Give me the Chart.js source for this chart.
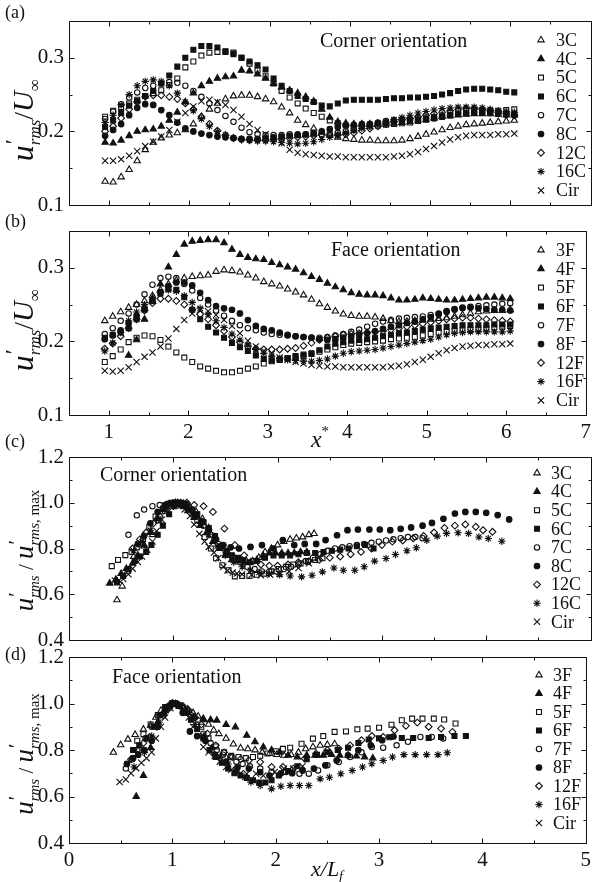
<!DOCTYPE html>
<html>
<head>
<meta charset="utf-8">
<script src="https://cdn.jsdelivr.net/npm/chart.js@4.4.1/dist/chart.umd.min.js"></script>
<style>
  html, body { margin: 0; padding: 0; background: #fff; }
  #wrap { position: relative; width: 596px; height: 882px; overflow: hidden; background: #fff; }
  #wrap canvas { position: absolute; left: 0; top: 0; }
</style>
</head>
<body>
<div id="wrap">
  <canvas id="pa" width="596" height="882"></canvas>
  <canvas id="pb" width="596" height="882"></canvas>
  <canvas id="pc" width="596" height="882"></canvas>
  <canvas id="pd" width="596" height="882"></canvas>
</div>
<script>
// ---------------- data ----------------
const NAMES_C = ['3C', '4C', '5C', '6C', '7C', '8C', '12C', '16C', 'Cir'];
const NAMES_F = ['3F', '4F', '5F', '6F', '7F', '8F', '12F', '16F', 'Cir'];

// streamwise stations x* shared by panels (a) and (b)
const X_STAR = [0.95,1.05,1.15,1.25,1.35,1.45,1.55,1.65,1.75,1.85,1.95,2.05,2.15,2.25,2.35,2.45,2.55,2.65,2.75,2.85,2.95,3.05,3.15,3.25,3.35,3.45,3.55,3.65,3.75,3.85,3.95,4.05,4.15,4.25,4.35,4.45,4.55,4.65,4.75,4.85,4.95,5.05,5.15,5.25,5.35,5.45,5.55,5.65,5.75,5.85,5.95,6.05];

// (a) corner orientation, u'rms/U
const A_3C  = [.132,.131,.138,.148,.160,.175,.185,.191,.195,.198,.202,.210,.220,.230,.238,.244,.248,.249,.249,.247,.244,.240,.233,.225,.215,.209,.204,.199,.195,.192,.190,.189,.188,.188,.187,.187,.187,.188,.190,.193,.196,.199,.202,.205,.207,.209,.210,.211,.212,.213,.214,.215];
const A_4C  = [.185,.184,.188,.194,.200,.202,.203,.207,.215,.226,.240,.252,.262,.268,.272,.274,.275,.283,.282,.278,.272,.265,.260,.256,.252,.247,.241,.230,.219,.213,.211,.210,.210,.210,.210,.210,.211,.212,.213,.215,.216,.218,.220,.221,.222,.223,.224,.224,.224,.223,.222,.222];
const A_5C  = [.220,.228,.233,.238,.243,.248,.252,.256,.263,.272,.287,.295,.303,.307,.308,.308,.307,.300,.292,.283,.275,.265,.255,.246,.238,.231,.225,.220,.215,.211,.208,.207,.207,.207,.208,.209,.210,.211,.212,.214,.216,.218,.220,.222,.224,.225,.226,.227,.228,.228,.229,.230];
const A_6C  = [.206,.215,.225,.235,.241,.248,.255,.265,.276,.288,.300,.311,.316,.316,.314,.309,.305,.300,.295,.290,.284,.272,.262,.255,.248,.244,.240,.235,.234,.238,.242,.243,.243,.243,.243,.244,.245,.245,.246,.246,.247,.248,.250,.252,.255,.257,.258,.258,.257,.256,.254,.253];
const A_7C  = [.217,.227,.237,.246,.253,.259,.262,.265,.267,.266,.262,.255,.247,.238,.229,.221,.213,.205,.199,.196,.195,.195,.195,.196,.196,.196,.196,.196,.197,.198,.200,.203,.207,.210,.212,.214,.215,.216,.217,.218,.219,.220,.222,.225,.228,.230,.230,.229,.228,.226,.225,.224];
const A_8C  = [.194,.202,.210,.222,.232,.237,.236,.229,.222,.212,.204,.200,.197,.195,.193,.192,.191,.190,.190,.190,.191,.192,.193,.194,.195,.196,.198,.200,.203,.206,.208,.209,.210,.210,.211,.212,.213,.214,.215,.216,.217,.218,.220,.222,.224,.225,.226,.226,.225,.224,.223,.222];
const A_12C = [.200,.207,.218,.230,.240,.247,.249,.249,.247,.244,.238,.230,.220,.210,.201,.195,.191,.189,.188,.188,.188,.189,.190,.191,.192,.193,.194,.195,.195,.195,.196,.198,.201,.204,.207,.210,.213,.216,.218,.220,.222,.224,.226,.228,.230,.231,.231,.230,.228,.226,.224,.222];
const A_16C = [.212,.222,.236,.250,.262,.268,.270,.268,.262,.252,.240,.228,.217,.207,.200,.195,.191,.189,.188,.187,.187,.186,.185,.184,.183,.184,.186,.189,.192,.195,.198,.201,.204,.207,.210,.213,.216,.219,.222,.225,.227,.229,.231,.232,.233,.233,.233,.232,.230,.228,.227,.226];
const A_CIR = [.160,.160,.162,.167,.173,.180,.186,.193,.202,.213,.225,.234,.241,.243,.240,.236,.229,.220,.210,.202,.196,.190,.184,.175,.171,.169,.168,.167,.166,.166,.165,.165,.165,.165,.165,.165,.166,.167,.169,.172,.176,.180,.185,.189,.192,.194,.195,.195,.195,.196,.196,.197];

// (b) face orientation, u'rms/U
const B_3F  = [.228,.234,.240,.246,.250,.255,.262,.270,.278,.283,.286,.288,.289,.290,.295,.297,.296,.294,.290,.286,.281,.278,.275,.271,.267,.263,.257,.251,.246,.241,.237,.235,.234,.234,.233,.231,.228,.227,.227,.228,.229,.230,.231,.232,.234,.236,.238,.240,.241,.242,.242,.243];
const B_4F  = [null,null,null,.181,.202,.230,.255,.278,.301,.318,.332,.336,.337,.338,.338,.334,.325,.318,.314,.312,.311,.307,.304,.301,.298,.293,.288,.284,.279,.274,.270,.266,.264,.263,.263,.262,.259,.256,.256,.257,.259,.258,.257,.256,.256,.257,.258,.259,.260,.260,.259,.258];
const B_5F  = [.172,.180,.189,.199,.205,.208,.207,.202,.193,.185,.178,.172,.166,.163,.160,.158,.158,.160,.163,.166,.170,.173,.175,.177,.178,.180,.183,.186,.189,.192,.195,.197,.198,.199,.200,.201,.203,.204,.205,.206,.208,.210,.212,.213,.214,.215,.216,.217,.218,.219,.220,.221];
const B_6F  = [.205,.209,.212,.218,.230,.243,.255,.265,.271,.270,.260,.243,.230,.220,.212,.205,.198,.192,.187,.181,.176,.174,.175,.177,.180,.182,.184,.188,.193,.197,.199,.201,.202,.203,.205,.207,.209,.211,.212,.214,.216,.218,.219,.220,.221,.222,.222,.222,.222,.223,.223,.223];
const B_7F  = [.210,.218,.228,.238,.250,.264,.277,.286,.288,.286,.278,.269,.259,.250,.242,.235,.228,.222,.218,.215,.212,.210,.209,.208,.207,.206,.205,.205,.206,.208,.210,.213,.216,.220,.224,.227,.229,.231,.232,.233,.234,.236,.238,.240,.243,.245,.247,.248,.249,.250,.251,.252];
const B_8F  = [.203,.208,.215,.225,.235,.245,.255,.267,.275,.280,.280,.276,.266,.256,.248,.245,.243,.238,.229,.221,.217,.215,.212,.209,.207,.206,.205,.203,.202,.203,.205,.207,.209,.211,.214,.217,.220,.222,.225,.227,.230,.233,.237,.241,.244,.246,.246,.245,.244,.243,.243,.242];
const B_12F = [.190,.197,.207,.218,.230,.242,.252,.258,.258,.255,.250,.243,.237,.230,.222,.214,.206,.199,.193,.190,.189,.189,.189,.190,.191,.194,.198,.202,.205,.207,.209,.210,.211,.212,.213,.214,.216,.218,.220,.222,.224,.226,.228,.230,.231,.232,.232,.231,.230,.229,.228,.227];
const B_16F = [.187,.198,.212,.228,.240,.250,.260,.266,.270,.268,.262,.253,.245,.237,.228,.219,.210,.202,.195,.189,.184,.180,.177,.175,.174,.173,.173,.174,.176,.180,.184,.186,.187,.188,.189,.191,.193,.195,.197,.199,.201,.203,.206,.209,.211,.212,.213,.213,.213,.213,.213,.214];
const B_CIR = [.160,.159,.160,.165,.172,.179,.185,.193,.204,.217,.229,.238,.243,.241,.236,.229,.221,.211,.201,.193,.187,.183,.178,.175,.172,.170,.168,.167,.166,.166,.165,.165,.165,.165,.165,.165,.166,.167,.169,.172,.175,.179,.184,.188,.191,.193,.194,.195,.195,.196,.196,.197];

// (c) corner orientation, normalised by the peak, against x/Lf
const C_3C_X  = [0.46,0.51,0.56,0.62,0.72,0.80,0.86,0.92,0.98,1.04,1.10,1.16,1.22,1.28,1.34,1.40,1.46,1.52,1.58,1.64,1.70,1.76,1.82,1.88,1.94,2.00,2.06,2.12,2.18,2.24,2.30,2.35];
const C_3C_Y  = [.575,.635,.70,.765,.81,.86,.92,.96,.99,1.0,.995,.98,.96,.93,.89,.85,.81,.785,.765,.75,.745,.745,.76,.785,.80,.815,.83,.84,.845,.85,.86,.865];
const C_4C_X  = [0.39,0.45,0.50,0.55,0.61,0.66,0.72,0.78,0.84,0.90,0.96,1.02,1.08,1.14,1.20,1.26,1.32,1.38,1.44,1.50,1.56,1.62,1.68,1.74,1.80,1.86,1.92,1.98,2.04,2.10,2.16,2.22,2.28];
const C_4C_Y  = [.648,.665,.69,.712,.735,.77,.815,.87,.93,.97,.995,1.0,.99,.965,.935,.90,.87,.83,.80,.77,.75,.745,.74,.74,.75,.77,.78,.78,.78,.78,.78,.785,.785];
const C_5C_X  = [0.41,0.47,0.54,0.60,0.65,0.71,0.77,0.83,0.90,0.96,1.02,1.09,1.16,1.23,1.30,1.36,1.41,1.47,1.53,1.59,1.66,1.73,1.80,1.87,1.94,2.01,2.08,2.15,2.22,2.29,2.36,2.43];
const C_5C_Y  = [.723,.75,.771,.785,.805,.84,.895,.94,.975,.995,1.0,.985,.968,.924,.85,.80,.757,.727,.705,.678,.68,.68,.685,.69,.70,.71,.72,.73,.735,.742,.75,.757];
const C_6C_X  = [0.46,0.52,0.57,0.63,0.68,0.74,0.79,0.85,0.90,0.96,1.01,1.07,1.12,1.18,1.23,1.29,1.34,1.40,1.45,1.51,1.56,1.62,1.67,1.73,1.80,1.88,1.96,2.04,2.12,2.20,2.28,2.36,2.44,2.52,2.60,2.68,2.76,2.84,2.92];
const C_6C_Y  = [.652,.68,.71,.745,.765,.785,.815,.86,.90,.95,.985,1.0,.995,.97,.95,.915,.89,.855,.81,.785,.77,.76,.75,.74,.745,.76,.77,.77,.77,.775,.78,.78,.785,.79,.795,.80,.81,.815,.80];
const C_7C_X  = [0.57,0.65,0.72,0.80,0.87,0.94,1.01,1.08,1.15,1.22,1.29,1.36,1.43,1.50,1.57,1.64,1.71,1.78,1.85,1.92,1.99,2.06,2.13,2.20,2.27,2.34,2.41,2.48,2.55,2.62,2.69,2.76,2.83,2.90,2.97,3.04,3.11,3.18,3.25,3.32,3.39];
const C_7C_Y  = [.86,.945,.97,.985,.99,.995,1.0,.99,.97,.94,.90,.86,.82,.79,.76,.74,.72,.71,.70,.70,.70,.71,.72,.73,.745,.76,.775,.79,.80,.805,.81,.815,.82,.825,.83,.835,.84,.845,.85,.85,.845];
const C_8C_X  = [0.66,0.72,0.78,0.85,0.92,0.99,1.06,1.13,1.20,1.27,1.34,1.41,1.48,1.55,1.63,1.74,1.85,1.96,2.05,2.16,2.26,2.37,2.46,2.57,2.67,2.77,2.88,2.98,3.08,3.18,3.28,3.39,3.48,3.59,3.70,3.80,3.90,4.00,4.11,4.22];
const C_8C_Y  = [.82,.855,.91,.96,.99,1.0,.995,.98,.95,.92,.88,.84,.815,.805,.80,.807,.815,.80,.837,.815,.82,.82,.837,.858,.88,.883,.883,.883,.88,.886,.892,.90,.912,.93,.953,.96,.96,.956,.946,.927];
const C_12C_X = [0.61,0.68,0.74,0.81,0.87,0.94,1.00,1.07,1.13,1.20,1.29,1.38,1.49,1.59,1.68,1.76,1.84,1.92,2.00,2.10,2.20,2.30,2.40,2.50,2.60,2.70,2.80,2.90,3.00,3.10,3.20,3.30,3.40,3.50,3.60,3.70,3.80,3.90,3.97,4.06];
const C_12C_Y = [.80,.84,.87,.91,.94,.97,.985,1.0,1.0,.99,.985,.96,.887,.815,.77,.745,.73,.725,.725,.73,.74,.745,.75,.76,.765,.775,.785,.80,.815,.83,.835,.845,.855,.87,.89,.90,.905,.895,.88,.873];
const C_16C_X = [0.62,0.70,0.78,0.86,0.94,1.02,1.10,1.18,1.26,1.34,1.42,1.50,1.58,1.66,1.74,1.82,1.92,2.02,2.12,2.23,2.33,2.43,2.54,2.63,2.74,2.83,2.93,3.04,3.13,3.24,3.33,3.43,3.53,3.62,3.73,3.83,3.93,4.02,4.15];
const C_16C_Y = [.79,.83,.88,.93,.975,1.0,.99,.96,.91,.86,.81,.77,.74,.72,.705,.695,.69,.685,.68,.676,.683,.698,.715,.705,.705,.72,.745,.756,.774,.79,.803,.836,.854,.866,.869,.866,.85,.844,.832];
const C_CIR_X = [0.44,0.48,0.52,0.57,0.61,0.66,0.70,0.75,0.80,0.84,0.89,0.93,0.98,1.02,1.07,1.11,1.16,1.20,1.25,1.30,1.34,1.39,1.43,1.48,1.52,1.57,1.61,1.66,1.75,1.84,1.93,2.02,2.11,2.20,2.30,2.39];
const C_CIR_Y = [.66,.66,.667,.687,.712,.741,.765,.794,.831,.877,.926,.963,.992,1.0,.988,.971,.942,.905,.864,.831,.807,.782,.757,.72,.704,.695,.691,.687,.685,.683,.685,.69,.70,.715,.735,.76];

// (d) face orientation, normalised by the peak, against x/Lf
const D_3F_X  = [0.43,0.50,0.57,0.64,0.72,0.79,0.84,0.89,0.95,1.00,1.05,1.10,1.15,1.20,1.25,1.30,1.35,1.40,1.45,1.52,1.59,1.66,1.73,1.80,1.87,1.94,2.01,2.08,2.15,2.22,2.29,2.36,2.43,2.50,2.57];
const D_3F_Y  = [.79,.822,.846,.866,.889,.906,.94,.97,.985,1.0,.995,.985,.975,.96,.945,.93,.91,.885,.87,.85,.825,.808,.805,.80,.79,.785,.78,.777,.78,.79,.805,.813,.82,.823,.826];
const D_4F_X  = [0.65,0.72,0.79,0.86,0.93,1.00,1.07,1.14,1.21,1.30,1.37,1.43,1.52,1.61,1.72,1.80,1.88,1.96,2.04,2.12,2.21,2.30,2.38,2.46,2.54,2.62,2.70,2.78,2.86,2.94];
const D_4F_Y  = [.60,.69,.81,.92,.97,1.0,.99,.965,.942,.935,.93,.928,.909,.899,.863,.835,.813,.80,.79,.777,.77,.777,.777,.777,.78,.777,.777,.774,.77,.765];
const D_5F_X  = [0.66,0.72,0.79,0.86,0.93,1.00,1.07,1.14,1.21,1.28,1.35,1.42,1.50,1.57,1.64,1.71,1.78,1.85,1.92,2.00,2.07,2.14,2.25,2.36,2.46,2.57,2.68,2.79,2.89,3.00,3.12,3.22,3.32,3.42,3.53,3.63,3.74];
const D_5F_Y  = [.84,.868,.91,.95,.985,1.0,.99,.97,.94,.90,.85,.815,.79,.775,.77,.765,.77,.775,.785,.795,.805,.81,.827,.849,.86,.878,.88,.889,.892,.896,.909,.928,.935,.935,.935,.931,.914];
const D_6F_X  = [0.62,0.68,0.75,0.82,0.88,0.94,1.00,1.06,1.12,1.18,1.24,1.30,1.36,1.42,1.48,1.54,1.60,1.66,1.72,1.78,1.84,1.90,1.96,2.03,2.12,2.21,2.30,2.40,2.50,2.60,2.70,2.80,2.90,3.00,3.10,3.22,3.33,3.48,3.60,3.73,3.84];
const D_6F_Y  = [.80,.82,.85,.90,.95,.98,1.0,.99,.96,.93,.89,.85,.80,.77,.745,.72,.70,.69,.68,.67,.66,.66,.67,.69,.71,.73,.76,.78,.79,.80,.81,.83,.845,.85,.855,.852,.852,.852,.856,.86,.86];
const D_7F_X  = [0.55,0.61,0.68,0.74,0.80,0.86,0.93,0.99,1.05,1.11,1.18,1.24,1.30,1.37,1.43,1.49,1.56,1.62,1.68,1.75,1.85,1.96,2.10,2.23,2.32,2.41,2.50,2.61,2.72,2.83,2.93,3.04,3.17,3.28,3.40,3.51,3.62];
const D_7F_Y  = [.72,.76,.80,.85,.90,.95,.98,1.0,.995,.98,.95,.91,.87,.83,.80,.78,.77,.75,.74,.73,.72,.705,.705,.698,.698,.712,.734,.748,.77,.79,.813,.81,.82,.835,.856,.856,.85];
const D_8F_X  = [0.56,0.62,0.67,0.73,0.80,0.86,0.92,0.98,1.04,1.10,1.17,1.24,1.32,1.41,1.52,1.63,1.74,1.85,1.94,2.05,2.16,2.26,2.37,2.48,2.59,2.70,2.80,2.92,3.03,3.14];
const D_8F_Y  = [.74,.765,.78,.80,.84,.90,.96,.99,1.0,.96,.88,.86,.84,.78,.75,.725,.72,.705,.69,.70,.70,.712,.72,.734,.755,.777,.80,.82,.842,.858];
const D_12F_X = [0.60,0.66,0.72,0.78,0.85,0.91,0.97,1.03,1.10,1.16,1.22,1.28,1.34,1.42,1.50,1.58,1.66,1.74,1.85,1.96,2.07,2.17,2.28,2.39,2.50,2.61,2.72,2.83,2.93,3.04,3.15,3.26,3.37,3.48,3.60,3.71];
const D_12F_Y = [.76,.80,.83,.856,.90,.95,.98,1.0,.99,.97,.94,.91,.87,.82,.79,.77,.76,.755,.748,.727,.727,.72,.763,.784,.80,.806,.82,.842,.86,.856,.885,.904,.918,.90,.892,.878];
const D_16F_X = [0.63,0.73,0.80,0.87,0.94,1.01,1.08,1.15,1.22,1.30,1.38,1.46,1.54,1.62,1.70,1.76,1.85,1.96,2.05,2.14,2.23,2.32,2.43,2.52,2.63,2.74,2.84,2.93,3.04,3.13,3.24,3.35,3.46,3.57,3.66];
const D_16F_Y = [.727,.79,.86,.92,.97,1.0,.99,.96,.91,.86,.81,.77,.74,.71,.683,.662,.647,.633,.644,.647,.647,.647,.676,.683,.698,.712,.727,.741,.755,.77,.78,.78,.78,.78,.788];
const D_CIR_X = [0.49,0.55,0.60,0.65,0.70,0.75,0.80,0.84,0.89,0.93,0.98,1.02,1.07,1.11,1.16,1.20,1.25,1.30,1.35,1.41,1.46,1.52,1.57,1.61,1.66,1.72,1.81,1.88,1.99,2.08,2.17,2.26];
const D_CIR_Y = [.662,.673,.70,.722,.745,.765,.79,.85,.90,.94,.98,1.0,.99,.97,.94,.90,.86,.813,.79,.774,.75,.727,.715,.708,.70,.698,.698,.69,.705,.72,.72,.73];

// axis tick labels
const TICKS_XSTAR = ['1', '2', '3', '4', '5', '6', '7'];
const TICKS_XLF   = ['0', '1', '2', '3', '4', '5'];

// ---------------- styling ----------------
const SERIF = "'Liberation Serif', 'Times New Roman', serif";
const INK = '#111';
Chart.defaults.font.family = SERIF;
Chart.defaults.color = INK;

// marker per series position: 3, 4, 5, 6, 7, 8, 12, 16, circular cylinder
const MARKERS = [
  { pointStyle: 'triangle', radius: 3.7, fill: false },
  { pointStyle: 'triangle', radius: 3.7, fill: true },
  { pointStyle: 'rect',     radius: 3.5, fill: false },
  { pointStyle: 'rect',     radius: 3.5, fill: true },
  { pointStyle: 'circle',   radius: 2.7, fill: false },
  { pointStyle: 'circle',   radius: 2.8, fill: true },
  { pointStyle: 'rectRot',  radius: 3.4, fill: false },
  { pointStyle: 'star',     radius: 3.7, fill: false },
  { pointStyle: 'crossRot', radius: 4.4, fill: false }
];

function fromGrid(xs, ys) {
  const out = [];
  xs.forEach((x, i) => { if (ys[i] != null) out.push({ x: x, y: ys[i] }); });
  return out;
}

function makeDatasets(names, points) {
  return names.map((name, i) => {
    const m = MARKERS[i];
    const fillCol = m.fill ? INK : 'rgba(0,0,0,0)';
    return {
      label: name,
      data: points[i],
      showLine: false,
      pointStyle: m.pointStyle,
      pointRadius: m.radius,
      pointHoverRadius: m.radius,
      pointBackgroundColor: fillCol,
      pointBorderColor: INK,
      pointBorderWidth: 1.1,
      backgroundColor: fillCol,
      borderColor: INK,
      clip: false
    };
  });
}

// text made of runs (italic letters, sub/superscripts), centred on (x, y)
function drawRuns(ctx, runs, x, y, vertical) {
  ctx.save();
  ctx.translate(x, y);
  if (vertical) ctx.rotate(-Math.PI / 2);
  ctx.textBaseline = 'alphabetic';
  ctx.textAlign = 'left';
  let total = 0;
  runs.forEach(r => {
    ctx.font = r.font;
    r.w = ctx.measureText(r.t).width;
    if (!r.hold) total += r.w;
  });
  let cx = -total / 2;
  runs.forEach(r => {
    ctx.font = r.font;
    ctx.fillText(r.t, cx + (r.dx || 0), r.dy || 0);
    if (!r.hold) cx += r.w;
  });
  ctx.restore();
}

const F = (style, size) => `${style} ${size}px ${SERIF}`;

const TITLE_U_INF = () => [
  { t: 'u', font: F('italic', 32) },
  { t: '\u2032', font: F('normal', 24), dy: -12, dx: 1, hold: true },
  { t: 'rms', font: F('italic', 17), dy: 7 },
  { t: '/', font: F('normal', 28) },
  { t: 'U', font: F('italic', 29) },
  { t: '\u221E', font: F('normal', 17), dy: 7 }
];
const TITLE_U_MAX = () => [
  { t: 'u', font: F('italic', 27) },
  { t: '\u2032', font: F('normal', 20), dy: -10, dx: 1, hold: true },
  { t: 'rms', font: F('italic', 15), dy: 6 },
  { t: ' / ', font: F('normal', 21) },
  { t: 'u', font: F('italic', 27) },
  { t: '\u2032', font: F('normal', 20), dy: -10, dx: 1, hold: true },
  { t: 'rms', font: F('italic', 15), dy: 6 },
  { t: ', max', font: F('normal', 15), dy: 6 }
];
const TITLE_XSTAR = () => [
  { t: 'x', font: F('italic', 24) },
  { t: '*', font: F('normal', 15), dy: -11 }
];
const TITLE_XLF = () => [
  { t: 'x/L', font: F('italic', 22) },
  { t: 'f', font: F('italic', 14), dy: 5 }
];

// frame, inward ticks on all sides, legend, annotations
const panelDecor = {
  id: 'panelDecor',
  afterDraw(chart, args, o) {
    const ctx = chart.ctx;
    const a = chart.chartArea;
    const sx = chart.scales.x, sy = chart.scales.y;
    ctx.save();
    ctx.strokeStyle = INK;
    ctx.fillStyle = INK;
    ctx.lineWidth = 1;
    const L = Math.round(a.left) + 0.5, R = Math.round(a.right) + 0.5;
    const T = Math.round(a.top) + 0.5, B = Math.round(a.bottom) + 0.5;
    ctx.beginPath();
    ctx.rect(L, T, R - L, B - T);
    ctx.stroke();

    ctx.beginPath();
    const nx = Math.round((sx.max - sx.min) / o.xMinor);
    for (let i = 0; i <= nx; i++) {
      const v = sx.min + i * o.xMinor;
      const px = Math.round(sx.getPixelForValue(v)) + 0.5;
      const len = Math.abs(v / o.xMajor - Math.round(v / o.xMajor)) < 1e-6 ? 5 : 3;
      ctx.moveTo(px, B); ctx.lineTo(px, B - len);
      ctx.moveTo(px, T); ctx.lineTo(px, T + len);
    }
    const ny = Math.round((sy.max - sy.min) / o.yMinor);
    for (let i = 0; i <= ny; i++) {
      const v = sy.min + i * o.yMinor;
      const py = Math.round(sy.getPixelForValue(v)) + 0.5;
      const len = Math.abs(v / o.yMajor - Math.round(v / o.yMajor)) < 1e-6 ? 5 : 3;
      ctx.moveTo(L, py); ctx.lineTo(L + len, py);
      ctx.moveTo(R, py); ctx.lineTo(R - len, py);
    }
    ctx.stroke();

    // legend
    chart.data.datasets.forEach((ds, i) => {
      const m = MARKERS[i];
      const ly = o.legY + i * o.legStep;
      ctx.save();
      ctx.fillStyle = m.fill ? INK : 'rgba(0,0,0,0)';
      ctx.strokeStyle = INK;
      ctx.lineWidth = 1.1;
      Chart.helpers.drawPoint(ctx, { pointStyle: m.pointStyle, radius: m.radius, borderWidth: 1.1, rotation: 0 }, o.legSymX, ly);
      ctx.restore();
      ctx.font = F('normal', 18);
      ctx.textBaseline = 'middle';
      ctx.textAlign = 'left';
      ctx.fillText(ds.label, o.legTextX, ly + 1);
    });

    // orientation note and panel letter
    ctx.font = F('normal', o.noteSize);
    ctx.textBaseline = 'middle';
    ctx.textAlign = 'left';
    ctx.fillText(o.note, o.noteX, o.noteY);
    ctx.font = F('normal', 18);
    ctx.fillText(o.letter, 5, o.letterY);

    // axis titles
    drawRuns(ctx, o.yTitle(), o.yTitleX, (a.top + a.bottom) / 2 + o.yTitleShift, true);
    if (o.xTitle) drawRuns(ctx, o.xTitle(), o.xTitleX, o.xTitleY, false);
    ctx.restore();
  }
};

const isMultiple = (v, step) => Math.abs(v / step - Math.round(v / step)) < 1e-6;

function makePanel(canvasId, cfg) {
  const H = 882;
  const xh = cfg.xLabels ? 30 : 0;
  return new Chart(document.getElementById(canvasId), {
    type: 'scatter',
    data: { datasets: makeDatasets(cfg.names, cfg.points) },
    plugins: [panelDecor],
    options: {
      responsive: false,
      devicePixelRatio: 1,
      animation: false,
      events: [],
      layout: { padding: { left: 0, right: 4, top: cfg.top, bottom: H - cfg.bottom - xh } },
      plugins: {
        legend: { display: false },
        tooltip: { enabled: false },
        panelDecor: cfg.decor
      },
      scales: {
        x: {
          type: 'linear',
          min: cfg.xMin, max: cfg.xMax,
          afterFit: s => { s.height = xh; },
          grid: { display: false, drawTicks: false },
          border: { display: false },
          ticks: {
            display: cfg.xLabels,
            stepSize: cfg.decor.xMinor,
            autoSkip: false,
            maxRotation: 0,
            padding: 5,
            color: INK,
            font: { family: SERIF, size: 21 },
            callback: v => {
              if (!isMultiple(v, cfg.decor.xMajor)) return '';
              const idx = Math.round((v - cfg.xLabelStart) / cfg.decor.xMajor);
              return cfg.xTickLabels[idx] !== undefined ? cfg.xTickLabels[idx] : '';
            }
          }
        },
        y: {
          type: 'linear',
          min: cfg.yMin, max: cfg.yMax,
          afterFit: s => { s.width = 69; },
          grid: { display: false, drawTicks: false },
          border: { display: false },
          ticks: {
            stepSize: cfg.decor.yMinor,
            autoSkip: false,
            padding: 5,
            color: INK,
            font: { family: SERIF, size: 21 },
            callback: v => (isMultiple(v, cfg.decor.yMajor) && Math.abs(v - 0.35) > 1e-6) ? v.toFixed(1) : ''
          }
        }
      }
    }
  });
}

makePanel('pa', {
  names: NAMES_C,
  points: [A_3C, A_4C, A_5C, A_6C, A_7C, A_8C, A_12C, A_16C, A_CIR].map(ys => fromGrid(X_STAR, ys)),
  top: 21, bottom: 205, xMin: 0.5, xMax: 7, yMin: 0.1, yMax: 0.35,
  xLabels: false, xTickLabels: TICKS_XSTAR, xLabelStart: 1,
  decor: {
    xMinor: 0.5, xMajor: 1, yMinor: 0.05, yMajor: 0.1,
    legSymX: 541, legTextX: 556, legY: 40, legStep: 18.8,
    note: 'Corner orientation', noteSize: 20, noteX: 320, noteY: 42,
    letter: '(a)', letterY: 13,
    yTitle: TITLE_U_INF, yTitleX: 33, yTitleShift: 7
  }
});

makePanel('pb', {
  names: NAMES_F,
  points: [B_3F, B_4F, B_5F, B_6F, B_7F, B_8F, B_12F, B_16F, B_CIR].map(ys => fromGrid(X_STAR, ys)),
  top: 231, bottom: 415, xMin: 0.5, xMax: 7, yMin: 0.1, yMax: 0.35,
  xLabels: true, xTickLabels: TICKS_XSTAR, xLabelStart: 1,
  decor: {
    xMinor: 0.5, xMajor: 1, yMinor: 0.05, yMajor: 0.1,
    legSymX: 541, legTextX: 556, legY: 250, legStep: 18.8,
    note: 'Face orientation', noteSize: 20, noteX: 331, noteY: 251,
    letter: '(b)', letterY: 222,
    yTitle: TITLE_U_INF, yTitleX: 33, yTitleShift: 7,
    xTitle: TITLE_XSTAR, xTitleX: 320, xTitleY: 447
  }
});

makePanel('pc', {
  names: NAMES_C,
  points: [
    fromGrid(C_3C_X, C_3C_Y), fromGrid(C_4C_X, C_4C_Y), fromGrid(C_5C_X, C_5C_Y),
    fromGrid(C_6C_X, C_6C_Y), fromGrid(C_7C_X, C_7C_Y), fromGrid(C_8C_X, C_8C_Y),
    fromGrid(C_12C_X, C_12C_Y), fromGrid(C_16C_X, C_16C_Y), fromGrid(C_CIR_X, C_CIR_Y)
  ],
  top: 457, bottom: 640, xMin: 0, xMax: 5, yMin: 0.4, yMax: 1.2,
  xLabels: false, xTickLabels: TICKS_XLF, xLabelStart: 0,
  decor: {
    xMinor: 0.5, xMajor: 1, yMinor: 0.1, yMajor: 0.2,
    legSymX: 537, legTextX: 551, legY: 473, legStep: 18.6,
    note: 'Corner orientation', noteSize: 20, noteX: 100, noteY: 476,
    letter: '(c)', letterY: 442,
    yTitle: TITLE_U_MAX, yTitleX: 33, yTitleShift: 2
  }
});

makePanel('pd', {
  names: NAMES_F,
  points: [
    fromGrid(D_3F_X, D_3F_Y), fromGrid(D_4F_X, D_4F_Y), fromGrid(D_5F_X, D_5F_Y),
    fromGrid(D_6F_X, D_6F_Y), fromGrid(D_7F_X, D_7F_Y), fromGrid(D_8F_X, D_8F_Y),
    fromGrid(D_12F_X, D_12F_Y), fromGrid(D_16F_X, D_16F_Y), fromGrid(D_CIR_X, D_CIR_Y)
  ],
  top: 657, bottom: 843, xMin: 0, xMax: 5, yMin: 0.4, yMax: 1.2,
  xLabels: true, xTickLabels: TICKS_XLF, xLabelStart: 0,
  decor: {
    xMinor: 0.5, xMajor: 1, yMinor: 0.1, yMajor: 0.2,
    legSymX: 539, legTextX: 553, legY: 675, legStep: 18.5,
    note: 'Face orientation', noteSize: 20, noteX: 112, noteY: 678,
    letter: '(d)', letterY: 655,
    yTitle: TITLE_U_MAX, yTitleX: 33, yTitleShift: 4,
    xTitle: TITLE_XLF, xTitleX: 327, xTitleY: 876
  }
});
</script>
</body>
</html>
